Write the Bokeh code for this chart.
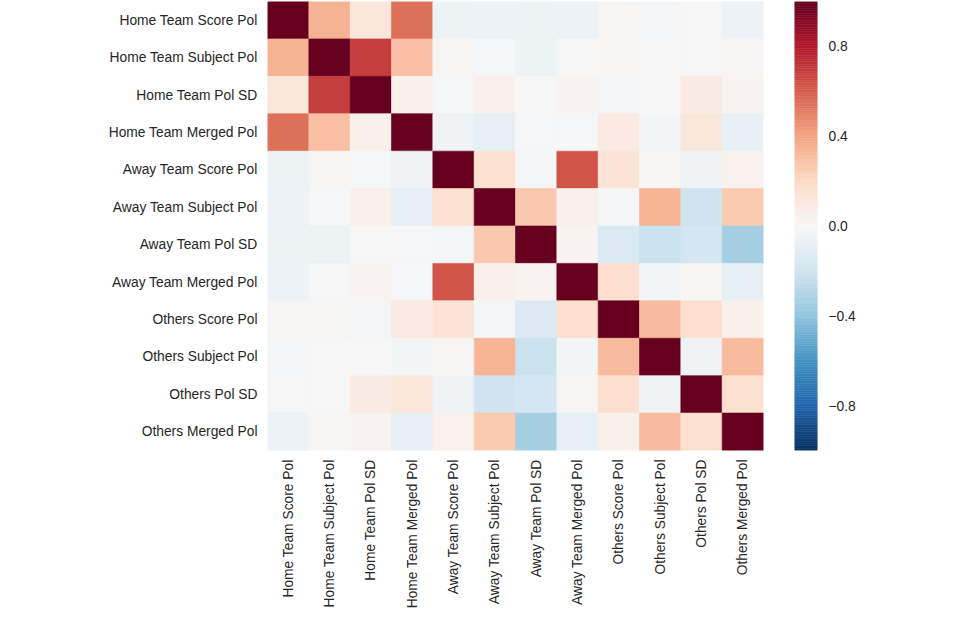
import math
import numpy as np
from bokeh.plotting import figure
from bokeh.layouts import row
from bokeh.models import FactorRange, Range1d, FixedTicker, LinearColorMapper, ColumnDataSource
from bokeh.embed import file_html
from bokeh.resources import INLINE

# ---------------- data ----------------
labels = ["Home Team Score Pol", "Home Team Subject Pol", "Home Team Pol SD",
          "Home Team Merged Pol", "Away Team Score Pol", "Away Team Subject Pol",
          "Away Team Pol SD", "Away Team Merged Pol", "Others Score Pol",
          "Others Subject Pol", "Others Pol SD", "Others Merged Pol"]

home_score    = [1.00, 0.35, 0.11, 0.55, -0.05, -0.06, -0.05, -0.06, 0.01, -0.02, 0.00, -0.06]
home_subject  = [0.35, 1.00, 0.69, 0.30, 0.01, -0.01, -0.05, 0.00, 0.01, 0.00, 0.00, 0.01]
home_sd       = [0.11, 0.69, 1.00, 0.05, -0.01, 0.05, 0.00, 0.03, -0.02, 0.00, 0.08, 0.03]
home_merged   = [0.55, 0.30, 0.05, 1.00, -0.04, -0.09, -0.01, -0.01, 0.09, -0.03, 0.11, -0.08]
away_score    = [-0.05, 0.01, -0.01, -0.04, 1.00, 0.16, -0.02, 0.63, 0.14, 0.01, -0.04, 0.04]
away_subject  = [-0.06, -0.01, 0.05, -0.09, 0.16, 1.00, 0.27, 0.05, -0.02, 0.34, -0.21, 0.26]
away_sd       = [-0.05, -0.05, 0.00, -0.01, -0.02, 0.27, 1.00, 0.03, -0.15, -0.22, -0.18, -0.34]
away_merged   = [-0.06, 0.00, 0.03, -0.01, 0.63, 0.05, 0.03, 1.00, 0.17, -0.03, 0.01, -0.09]
others_score  = [0.01, 0.01, -0.02, 0.09, 0.14, -0.02, -0.15, 0.17, 1.00, 0.32, 0.17, 0.05]
others_subject= [-0.02, 0.00, 0.00, -0.03, 0.01, 0.34, -0.22, -0.03, 0.32, 1.00, -0.04, 0.32]
others_sd     = [0.00, 0.00, 0.08, 0.11, -0.04, -0.21, -0.18, 0.01, 0.17, -0.04, 1.00, 0.16]
others_merged = [-0.06, 0.01, 0.03, -0.08, 0.04, 0.26, -0.34, -0.09, 0.05, 0.32, 0.16, 1.00]

rows = [home_score, home_subject, home_sd, home_merged, away_score, away_subject,
        away_sd, away_merged, others_score, others_subject, others_sd, others_merged]

cbar_ticks = [-0.8, -0.4, 0.0, 0.4, 0.8]
cbar_tick_labels = ["\u22120.8", "\u22120.4", "0.0", "0.4", "0.8"]

# ---------------- palette (RdBu reversed) ----------------
anchors = ["#053061", "#2166ac", "#4393c3", "#92c5de", "#d1e5f0", "#f7f7f7",
           "#fddbc7", "#f4a582", "#d6604d", "#b2182b", "#67001f"]
def _rgb(h):
    return [int(h[i:i + 2], 16) for i in (1, 3, 5)]
anc = np.array([_rgb(h) for h in anchors], dtype=float)
pos = np.linspace(0, 1, len(anchors))
palette = []
for t in np.linspace(0, 1, 256):
    c = [np.interp(t, pos, anc[:, k]) for k in range(3)]
    palette.append("#%02x%02x%02x" % tuple(int(round(v)) for v in c))

mapper = LinearColorMapper(palette=palette, low=-1, high=1)

# ---------------- heatmap ----------------
xs, ys, vals = [], [], []
for i, r in enumerate(rows):
    for j, v in enumerate(r):
        xs.append(labels[j]); ys.append(labels[i]); vals.append(v)
src = ColumnDataSource(dict(x=xs, y=ys, v=vals))

FONT = "Liberation Sans"
TXT = "#262626"
FS = "13.8px"

p = figure(width=794, height=611, output_backend="svg", toolbar_location=None,
           x_range=FactorRange(*labels), y_range=FactorRange(*labels[::-1]),
           min_border_left=267, min_border_right=31, min_border_top=1,
           min_border_bottom=150)
p.rect(x="x", y="y", width=1, height=1, source=src,
       fill_color={"field": "v", "transform": mapper},
       line_color={"field": "v", "transform": mapper}, line_width=0.6)

p.outline_line_color = None
p.grid.grid_line_color = None
for ax in (p.xaxis[0], p.yaxis[0]):
    ax.axis_line_color = None
    ax.major_tick_line_color = None
    ax.minor_tick_line_color = None
    ax.major_tick_out = 0
    ax.major_tick_in = 0
    ax.major_label_text_font = FONT
    ax.major_label_text_font_size = FS
    ax.major_label_text_color = TXT
p.yaxis.major_label_standoff = 10
p.xaxis.major_label_standoff = 9
p.xaxis.major_label_orientation = math.pi / 2

# ---------------- colorbar ----------------
edges = np.linspace(-1, 1, 257)
cb = ColumnDataSource(dict(bottom=edges[:-1], top=edges[1:],
                           mid=(edges[:-1] + edges[1:]) / 2))
p2 = figure(width=83, height=611, output_backend="svg", toolbar_location=None,
            x_range=Range1d(0, 1), y_range=Range1d(-1, 1), y_axis_location="right",
            min_border_left=0, min_border_right=60, min_border_top=1,
            min_border_bottom=150)
p2.quad(left=0, right=1, bottom="bottom", top="top", source=cb,
        fill_color={"field": "mid", "transform": mapper},
        line_color={"field": "mid", "transform": mapper}, line_width=0.5)
p2.xaxis.visible = False
p2.outline_line_color = None
p2.grid.grid_line_color = None
ya = p2.yaxis[0]
ya.ticker = FixedTicker(ticks=cbar_ticks)
ya.major_label_overrides = {t: l for t, l in zip(cbar_ticks, cbar_tick_labels)}
ya.axis_line_color = None
ya.major_tick_line_color = None
ya.minor_tick_line_color = None
ya.major_tick_out = 0
ya.major_tick_in = 0
ya.major_label_standoff = 11
ya.major_label_text_font = FONT
ya.major_label_text_font_size = FS
ya.major_label_text_color = TXT

layout = row(p, p2)
open("out.html", "w").write(file_html(layout, INLINE))
